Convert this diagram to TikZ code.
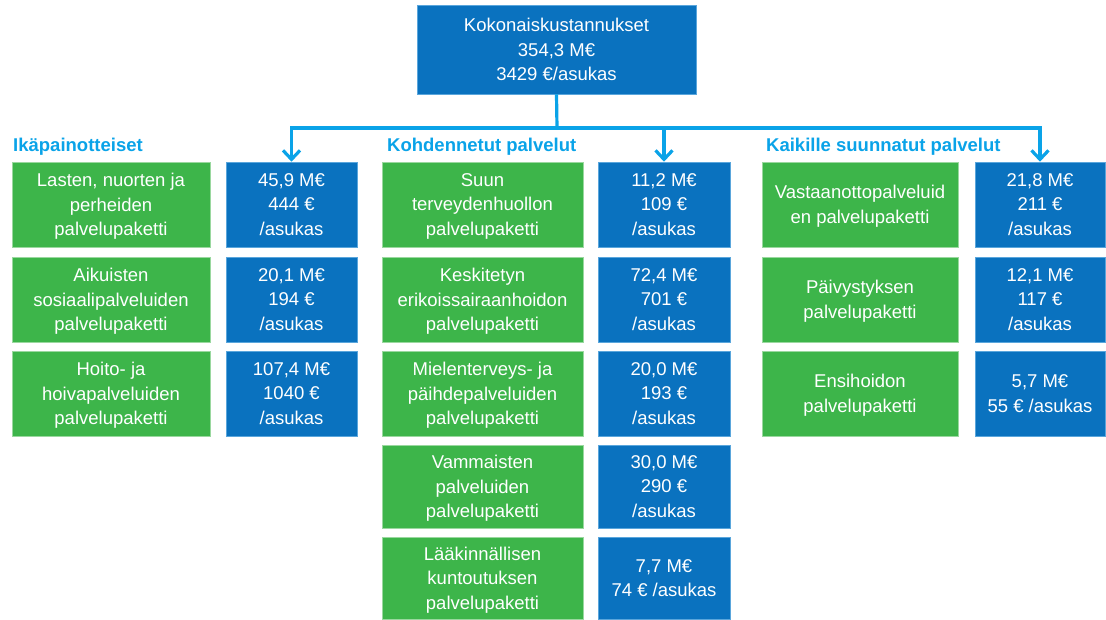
\documentclass[tikz,border=0pt]{standalone}
\usepackage{fontspec}
\setmainfont{Liberation Sans}
\usetikzlibrary{arrows.meta}
\definecolor{pkgreen}{HTML}{3DB54A}
\definecolor{pkgreenedge}{HTML}{9AD89F}
\definecolor{costblue}{HTML}{0A72BF}
\definecolor{costedge}{HTML}{5AA6DC}
\definecolor{linkcyan}{HTML}{0AA3E8}
\begin{document}
\begin{tikzpicture}[x=1pt,y=-1pt,
  txt/.style={font=\fontsize{18.5}{24.5}\selectfont, text=white, align=center, inner sep=0pt, text depth=0pt},
  gbox/.style={txt, fill=pkgreen, draw=pkgreenedge, line width=0.8pt},
  bbox/.style={txt, fill=costblue, draw=costedge, line width=0.6pt},
  heading/.style={font=\fontsize{18.5}{22}\selectfont\bfseries, text=linkcyan, anchor=west, inner sep=0pt},
  conn/.style={draw=linkcyan, line width=3.2pt},
  connarrow/.style={conn, -{Straight Barb[length=9pt,width=17pt]}}]
\useasboundingbox (0,0) rectangle (1106,619);

% total cost
\node[bbox, minimum width=279pt, minimum height=89pt] (top) at (556.5,49.5)
  {Kokonaiskustannukset\\354,3 M€\\3429 €/asukas};

% group headings
\node[heading] (h1) at (13,147) {Ikäpainotteiset};
\node[heading] (h2) at (387,147) {Kohdennetut palvelut};
\node[heading] (h3) at (766,147) {Kaikille suunnatut palvelut};

% age-weighted packages
\node[gbox, minimum width=198pt, minimum height=85pt] (g11) at (111,204.5)
  {Lasten, nuorten ja\\perheiden\\palvelupaketti};
\node[bbox, minimum width=131pt, minimum height=85pt] (b11) at (291.5,204.5)
  {45,9 M€\\444 €\\/asukas};
\node[gbox, minimum width=198pt, minimum height=85pt] (g12) at (111,299.5)
  {Aikuisten\\sosiaalipalveluiden\\palvelupaketti};
\node[bbox, minimum width=131pt, minimum height=85pt] (b12) at (291.5,299.5)
  {20,1 M€\\194 €\\/asukas};
\node[gbox, minimum width=198pt, minimum height=85pt] (g13) at (111,393.5)
  {Hoito- ja\\hoivapalveluiden\\palvelupaketti};
\node[bbox, minimum width=131pt, minimum height=85pt] (b13) at (291.5,393.5)
  {107,4 M€\\1040 €\\/asukas};

% targeted packages
\node[gbox, minimum width=201pt, minimum height=85pt] (g21) at (482.5,204.5)
  {Suun\\terveydenhuollon\\palvelupaketti};
\node[bbox, minimum width=132pt, minimum height=85pt] (b21) at (664,204.5)
  {11,2 M€\\109 €\\/asukas};
\node[gbox, minimum width=201pt, minimum height=85pt] (g22) at (482.5,299.5)
  {Keskitetyn\\erikoissairaanhoidon\\palvelupaketti};
\node[bbox, minimum width=132pt, minimum height=85pt] (b22) at (664,299.5)
  {72,4 M€\\701 €\\/asukas};
\node[gbox, minimum width=201pt, minimum height=85pt] (g23) at (482.5,393.5)
  {Mielenterveys- ja\\päihdepalveluiden\\palvelupaketti};
\node[bbox, minimum width=132pt, minimum height=85pt] (b23) at (664,393.5)
  {20,0 M€\\193 €\\/asukas};
\node[gbox, minimum width=201pt, minimum height=83pt] (g24) at (482.5,486.5)
  {Vammaisten\\palveluiden\\palvelupaketti};
\node[bbox, minimum width=132pt, minimum height=83pt] (b24) at (664,486.5)
  {30,0 M€\\290 €\\/asukas};
\node[gbox, minimum width=201pt, minimum height=82pt] (g25) at (482.5,578)
  {Lääkinnällisen\\kuntoutuksen\\palvelupaketti};
\node[bbox, minimum width=132pt, minimum height=82pt] (b25) at (664,578)
  {7,7 M€\\74 € /asukas};

% packages for everyone
\node[gbox, minimum width=196pt, minimum height=85pt] (g31) at (860,204.5)
  {Vastaanottopalveluid\\en palvelupaketti};
\node[bbox, minimum width=130pt, minimum height=85pt] (b31) at (1040,204.5)
  {21,8 M€\\211 €\\/asukas};
\node[gbox, minimum width=196pt, minimum height=85pt] (g32) at (860,299.5)
  {Päivystyksen\\palvelupaketti};
\node[bbox, minimum width=130pt, minimum height=85pt] (b32) at (1040,299.5)
  {12,1 M€\\117 €\\/asukas};
\node[gbox, minimum width=196pt, minimum height=85pt] (g33) at (860,393.5)
  {Ensihoidon\\palvelupaketti};
\node[bbox, minimum width=130pt, minimum height=85pt] (b33) at (1040,393.5)
  {5,7 M€\\55 € /asukas};

% connectors from the total to each group
\coordinate (bus) at (557,128);
\draw[conn] (top.south) -- (bus);
\draw[connarrow] (bus) -| (b11.north);
\draw[connarrow] (bus) -| (b31.north);
\draw[connarrow] (bus) -| (b21.north);
\end{tikzpicture}
\end{document}
